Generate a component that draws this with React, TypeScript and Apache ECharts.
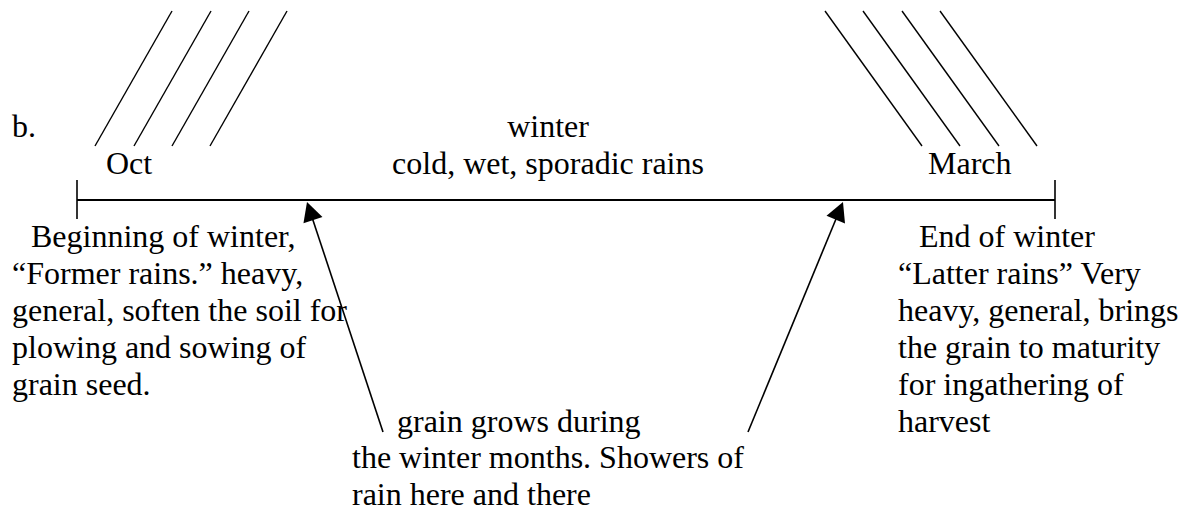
import React, { useEffect, useRef } from "react";
import * as echarts from "echarts";

const sectionLabel = "b.";
const seasonTitle = ["winter", "cold, wet, sporadic rains"];
const months = ["Oct", "March"];
const leftNotes = [
  "Beginning of winter,",
  "\u201cFormer rains.\u201d heavy,",
  "general, soften the soil for",
  "plowing and sowing of",
  "grain seed.",
];
const rightNotes = [
  "End of winter",
  "\u201cLatter rains\u201d Very",
  "heavy, general, brings",
  "the grain to maturity",
  "for ingathering of",
  "harvest",
];
const middleNotes = [
  "grain grows during",
  "the winter months. Showers of",
  "rain here and there",
];

const FONT = '32px "Liberation Serif", "Times New Roman", serif';
const LH = 36.9;
const TOP_ROW = 247;
const MID = 11; // baseline -> middle offset

function txt(text: string, x: number, baseline: number, align: string = "left") {
  return {
    type: "text",
    x,
    y: baseline - MID,
    silent: true,
    style: {
      text,
      font: FONT,
      fill: "#000",
      textAlign: align,
      textVerticalAlign: "middle",
      lineHeight: 30,
    },
  };
}

function seg(x1: number, y1: number, x2: number, y2: number, w = 1.4) {
  return {
    type: "line",
    silent: true,
    shape: { x1, y1, x2, y2 },
    style: { stroke: "#000", lineWidth: w },
  };
}

function arrow(tail: [number, number], tip: [number, number]) {
  const dx = tip[0] - tail[0];
  const dy = tip[1] - tail[1];
  const L = Math.hypot(dx, dy);
  const ux = dx / L;
  const uy = dy / L;
  const headLen = 19;
  const half = 10;
  const bx = tip[0] - ux * headLen;
  const by = tip[1] - uy * headLen;
  const px = -uy;
  const py = ux;
  return [
    seg(tail[0], tail[1], bx + ux * 2, by + uy * 2, 1.6),
    {
      type: "polygon",
      silent: true,
      shape: {
        points: [
          [tip[0], tip[1]],
          [bx + px * half, by + py * half],
          [bx - px * half, by - py * half],
        ],
      },
      style: { fill: "#000" },
    },
  ];
}

export default function App() {
  const ref = useRef<HTMLDivElement>(null);
  useEffect(() => {
    document.body.style.margin = "0";
    const chart = echarts.init(ref.current!, null, { renderer: "svg" });
    const els: any[] = [];

    // rain strokes
    const leftTops = [172, 211, 249, 287];
    leftTops.forEach((x) => els.push(seg(x, 11, x - 77, 146)));
    const rightTops = [825, 863, 902, 940];
    rightTops.forEach((x) => els.push(seg(x, 11, x + 97, 146)));

    // timeline
    els.push(seg(77, 200, 1055, 200, 2));
    els.push(seg(77, 180, 77, 219, 1.6));
    els.push(seg(1055, 180, 1055, 219, 1.6));

    // arrows
    els.push(...arrow([383, 432], [307, 202]));
    els.push(...arrow([748, 432], [843, 202]));

    // texts
    els.push(txt(sectionLabel, 12, 137));
    els.push(txt(seasonTitle[0], 548, 137, "center"));
    els.push(txt(seasonTitle[1], 548, 174, "center"));
    els.push(txt(months[0], 106, 174));
    els.push(txt(months[1], 928, 174));

    leftNotes.forEach((t, i) => els.push(txt(t, i === 0 ? 31 : 12, TOP_ROW + i * LH)));
    rightNotes.forEach((t, i) => els.push(txt(t, i === 0 ? 919 : 898, TOP_ROW + i * LH)));
    middleNotes.forEach((t, i) =>
      els.push(txt(t, i === 0 ? 397 : 352, TOP_ROW + (5 + i) * LH))
    );

    chart.setOption({
      animation: false,
      backgroundColor: "#fff",
      graphic: { elements: els },
    });
    return () => chart.dispose();
  }, []);
  return <div ref={ref} style={{ width: 1194, height: 513 }} />;
}
